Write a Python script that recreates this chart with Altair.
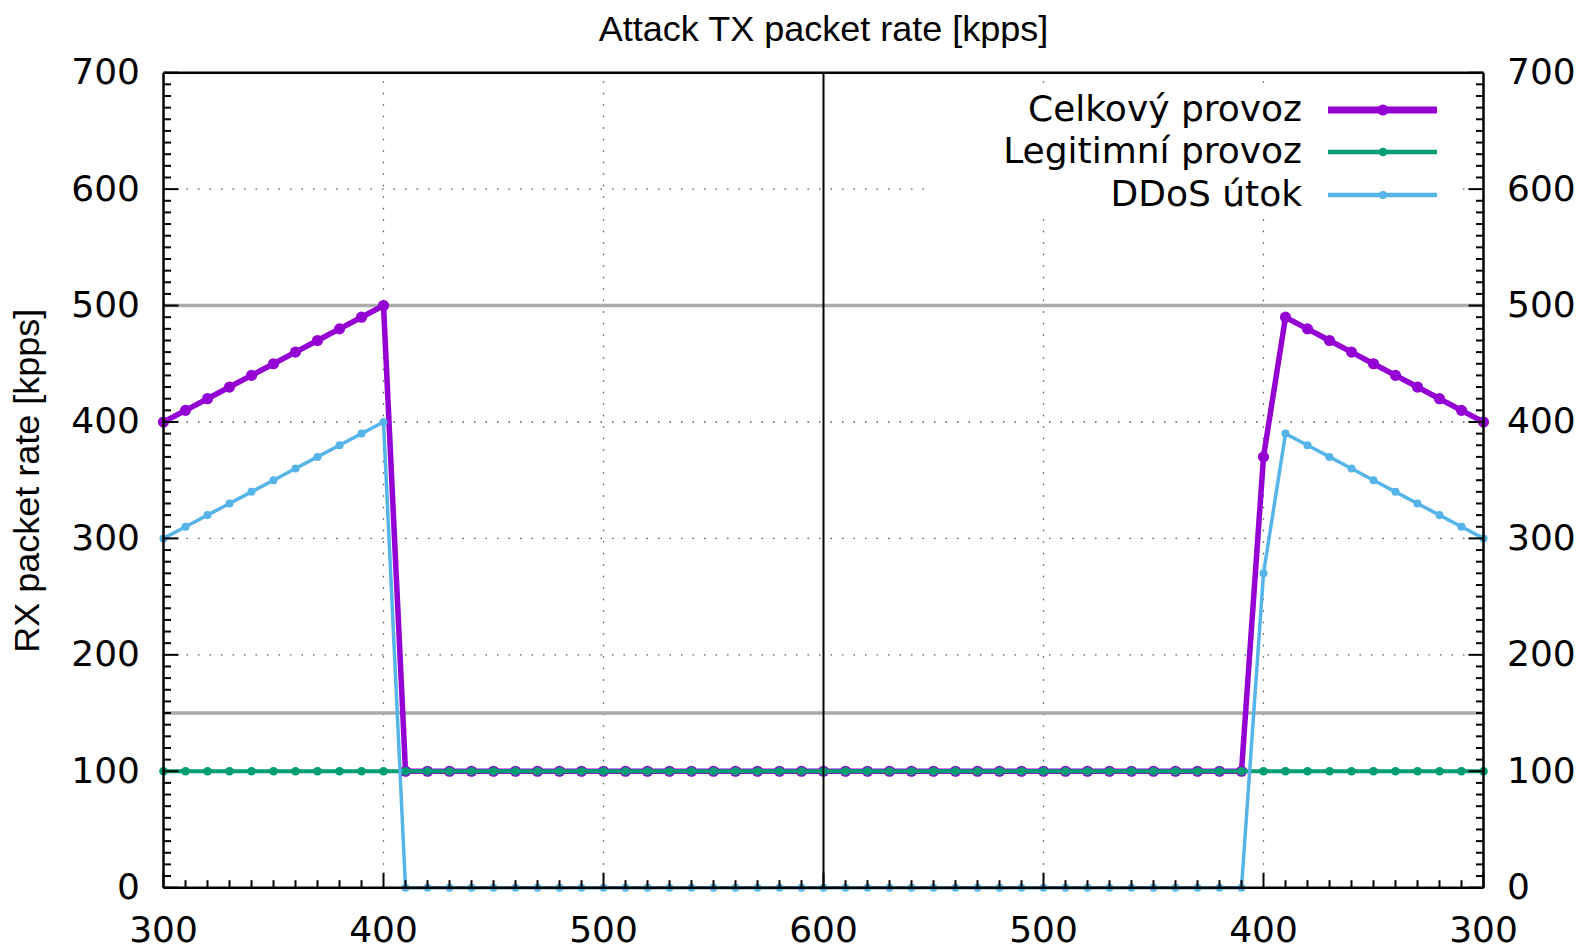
import altair as alt
import pandas as pd

# ---------------- data ----------------
steps = list(range(61))  # measurement index along the x axis (TX rate ramps 300 -> 600 -> 300)

tx_tick_positions = [0, 10, 20, 30, 40, 50, 60]
tx_tick_labels = ["300", "400", "500", "600", "500", "400", "300"]

series_names = ["Celkový provoz", "Legitimní provoz", "DDoS útok"]
series_colors = ["#9400d3", "#009e73", "#56b4e9"]

total = [400, 410, 420, 430, 440, 450, 460, 470, 480, 490, 500,
         100, 100, 100, 100, 100, 100, 100, 100, 100, 100,
         100, 100, 100, 100, 100, 100, 100, 100, 100, 100,
         100, 100, 100, 100, 100, 100, 100, 100, 100, 100,
         100, 100, 100, 100, 100, 100, 100, 100, 100,
         370, 490, 480, 470, 460, 450, 440, 430, 420, 410, 400]

legit = [100, 100, 100, 100, 100, 100, 100, 100, 100, 100, 100,
         100, 100, 100, 100, 100, 100, 100, 100, 100, 100,
         100, 100, 100, 100, 100, 100, 100, 100, 100, 100,
         100, 100, 100, 100, 100, 100, 100, 100, 100, 100,
         100, 100, 100, 100, 100, 100, 100, 100, 100,
         100, 100, 100, 100, 100, 100, 100, 100, 100, 100, 100]

ddos = [300, 310, 320, 330, 340, 350, 360, 370, 380, 390, 400,
        0, 0, 0, 0, 0, 0, 0, 0, 0, 0,
        0, 0, 0, 0, 0, 0, 0, 0, 0, 0,
        0, 0, 0, 0, 0, 0, 0, 0, 0, 0,
        0, 0, 0, 0, 0, 0, 0, 0, 0,
        270, 390, 380, 370, 360, 350, 340, 330, 320, 310, 300]

y_tick_values = [0, 100, 200, 300, 400, 500, 600, 700]
y_grid_values = [100, 200, 300, 400, 500, 600]
x_grid_values = [10, 20, 40, 50]
x_marker_value = [30]            # vertical black line at TX = 600
threshold_values = [500, 150]    # grey horizontal reference lines
x_minor_ticks = [s for s in steps if s % 10 != 0]
x_major_ticks = tx_tick_positions
y_minor_ticks = [v for v in range(0, 701, 10) if v % 100 != 0]
y_major_ticks = y_tick_values

# ---------------- layout ----------------
W, H = 1320, 815
LEFT, TOP = 155.5, 64.7

xs = alt.Scale(domain=[0, 60], nice=False, zero=False)
ys = alt.Scale(domain=[0, 700], nice=False, zero=False)

y_axis_left = alt.Axis(values=y_tick_values, orient="left", labelPadding=24,
                       labelOverlap=False, title="RX packet rate [kpps]", titlePadding=24)
y_axis_right = alt.Axis(values=y_tick_values, orient="right", labelPadding=23,
                        labelOverlap=False, title=None)

df = pd.DataFrame({"step": steps, "total": total, "legit": legit, "ddos": ddos})

layers = []

# dotted grid
grid_h = alt.Chart(pd.DataFrame({"v": y_grid_values})).mark_rule(
    color="#555555", strokeWidth=1.3, strokeDash=[1.5, 10]
).encode(
    y=alt.Y("v:Q", scale=ys, axis=y_axis_left),
    x=alt.X(datum=0, scale=xs, axis=None),
    x2=alt.X2(datum=60),
)
grid_v = alt.Chart(pd.DataFrame({"v": x_grid_values})).mark_rule(
    color="#555555", strokeWidth=1.3, strokeDash=[1.5, 10]
).encode(
    x=alt.X("v:Q", scale=xs, axis=None),
    y=alt.Y(datum=0, scale=ys, axis=None),
    y2=alt.Y2(datum=700),
)
layers += [grid_h, grid_v]

# grey threshold lines
thr = alt.Chart(pd.DataFrame({"v": threshold_values})).mark_rule(
    color="#aaaaaa", strokeWidth=3.5
).encode(
    y=alt.Y("v:Q", scale=ys, axis=None),
    x=alt.X(datum=0, scale=xs, axis=None),
    x2=alt.X2(datum=60),
)
layers.append(thr)

# data series
styles = [("total", 5.5, 125), ("legit", 4, 75), ("ddos", 3.5, 65)]
for i, (col, lw, sz) in enumerate(styles):
    base = alt.Chart(df)
    line = base.mark_line(color=series_colors[i], strokeWidth=lw).encode(
        x=alt.X("step:Q", scale=xs, axis=None),
        y=alt.Y(col + ":Q", scale=ys, axis=None),
    )
    pts = base.mark_circle(color=series_colors[i], size=sz, opacity=1).encode(
        x=alt.X("step:Q", scale=xs, axis=None),
        y=alt.Y(col + ":Q", scale=ys, axis=None),
    )
    layers += [line, pts]

# vertical black line at 600
vline = alt.Chart(pd.DataFrame({"v": x_marker_value})).mark_rule(
    color="black", strokeWidth=2
).encode(
    x=alt.X("v:Q", scale=xs, axis=None),
    y=alt.Y(datum=0, scale=ys, axis=None),
    y2=alt.Y2(datum=700),
)
layers.append(vline)

# inward ticks
def xticks(vals, length):
    return alt.Chart(pd.DataFrame({"v": vals})).mark_rule(
        color="black", strokeWidth=2, y2Offset=-length
    ).encode(
        x=alt.X("v:Q", scale=xs, axis=None),
        y=alt.Y(datum=0, scale=ys, axis=None),
        y2=alt.Y2(datum=0),
    )

def yticks(vals, length, at, axis=None):
    return alt.Chart(pd.DataFrame({"v": vals})).mark_rule(
        color="black", strokeWidth=2, x2Offset=length
    ).encode(
        y=alt.Y("v:Q", scale=ys, axis=axis),
        x=alt.X(datum=at, scale=xs, axis=None),
        x2=alt.X2(datum=at),
    )

layers += [
    xticks(x_minor_ticks, 7.5),
    xticks(x_major_ticks, 15),
    yticks(y_minor_ticks, 7.5, 0),
    yticks(y_major_ticks, 15, 0),
    yticks(y_minor_ticks, -7.5, 60),
    yticks(y_major_ticks, -15, 60, axis=y_axis_right),
]

# x tick labels (TX rate), placed through the x scale
xlab = alt.Chart(pd.DataFrame({"pos": tx_tick_positions, "label": tx_tick_labels})).mark_text(
    font="DejaVu Sans", fontSize=36, color="black", baseline="top", align="center", dy=26
).encode(
    x=alt.X("pos:Q", scale=xs, axis=None),
    y=alt.Y(datum=0, scale=ys, axis=None),
    text="label:N",
)
layers.append(xlab)

# plot border
border_h = alt.Chart(pd.DataFrame({"v": [0, 700]})).mark_rule(color="black", strokeWidth=2.5).encode(
    y=alt.Y("v:Q", scale=ys, axis=None),
    x=alt.X(datum=0, scale=xs, axis=None),
    x2=alt.X2(datum=60),
)
border_v = alt.Chart(pd.DataFrame({"v": [0, 60]})).mark_rule(color="black", strokeWidth=2.5).encode(
    x=alt.X("v:Q", scale=xs, axis=None),
    y=alt.Y(datum=0, scale=ys, axis=None),
    y2=alt.Y2(datum=700),
)
layers += [border_h, border_v]

# legend (opaque key box, labels right-aligned left of the samples)
one = pd.DataFrame({"k": [0]})
key_box = alt.Chart(one).mark_rect(fill="white").encode(
    x=alt.value(764.5), x2=alt.value(1291.5), y=alt.value(17), y2=alt.value(145)
)
layers.append(key_box)
row_y = [37.3, 79.3, 122.3]
leg_w = [7, 4.5, 4.5]
for i, (col, lw, sz) in enumerate(styles):
    ldf = pd.DataFrame({"name": [series_names[i]]})
    sample = alt.Chart(ldf).mark_rule(color=series_colors[i], strokeWidth=leg_w[i]).encode(
        x=alt.value(1164.5), x2=alt.value(1273.5), y=alt.value(row_y[i])
    )
    dot = alt.Chart(ldf).mark_circle(color=series_colors[i], size=sz, opacity=1).encode(
        x=alt.value(1219.5), y=alt.value(row_y[i])
    )
    txt = alt.Chart(ldf).mark_text(
        align="right", baseline="middle", font="DejaVu Sans", fontSize=36, color="black"
    ).encode(x=alt.value(1138.5), y=alt.value(row_y[i]), text="name:N")
    layers += [sample, dot, txt]

chart = alt.layer(*layers).resolve_axis(y="independent").properties(
    width=W,
    height=H,
    title=alt.Title("Attack TX packet rate [kpps]", font="Liberation Sans", fontSize=36,
                    fontWeight="normal", color="black", offset=6, anchor="middle"),
    autosize=alt.AutoSizeParams(type="none"),
    padding={"left": LEFT, "top": TOP, "right": 91.5, "bottom": 57},
).configure_view(stroke=None).configure_axis(
    labelFont="DejaVu Sans", labelFontSize=36, labelColor="black",
    titleFont="Liberation Sans", titleFontSize=36, titleFontWeight="normal", titleColor="black",
    domain=False, ticks=False, grid=False,
)

chart.save("out.html", embed_options={"renderer": "svg", "actions": False})
